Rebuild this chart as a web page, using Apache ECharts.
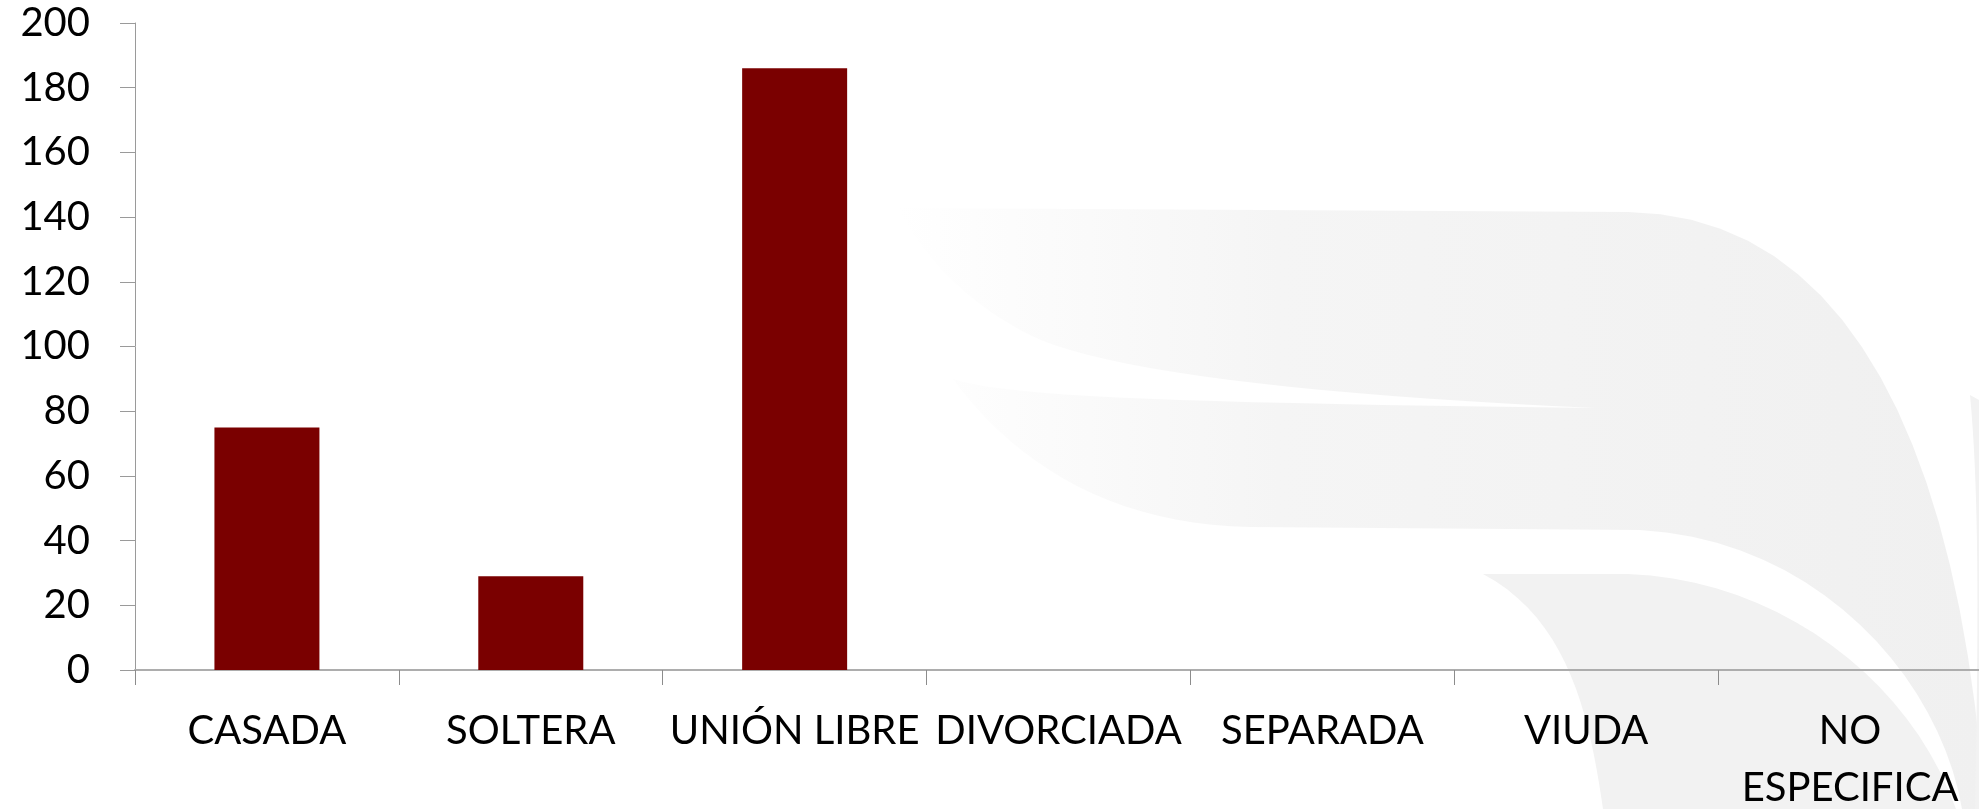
<!DOCTYPE html>
<html>
<head>
<meta charset="utf-8">
<script src="https://cdn.jsdelivr.net/npm/echarts@6/dist/echarts.min.js"></script>
<style>
  html, body { margin: 0; padding: 0; background: #ffffff; }
  #grafiek { width: 1979px; height: 809px; }
</style>
</head>
<body>
<div id="grafiek"></div>
<script>
// categorieën en waarden
const categorieen = ['CASADA', 'SOLTERA', 'UNIÓN LIBRE', 'DIVORCIADA', 'SEPARADA', 'VIUDA', 'NO\nESPECIFICA'];
const aantallen = [75, 29, 186, 0, 0, 0, 0];
const yTicks = [0, 200, 20]; // min, max, interval

// achtergrond watermerk (decoratie): lijnen en bezier-bochten omzetten naar veelhoek
function vorm(start, stukken) {
    let punten = [start];
    let p = start;
    stukken.forEach(s => {
        if (s.length === 1) {
            punten.push(s[0]);
            p = s[0];
        } else {
            let [c1, c2, e] = s;
            for (let i = 1; i <= 20; i++) {
                let t = i / 20, u = 1 - t;
                punten.push([
                    u * u * u * p[0] + 3 * u * u * t * c1[0] + 3 * u * t * t * c2[0] + t * t * t * e[0],
                    u * u * u * p[1] + 3 * u * u * t * c1[1] + 3 * u * t * t * c2[1] + t * t * t * e[1]
                ]);
            }
            p = e;
        }
    });
    return punten;
}

const grijs = {
    type: 'linear', x: 0, y: 0, x2: 1, y2: 0,
    colorStops: [
        { offset: 0, color: '#ffffff' },
        { offset: 0.35, color: '#f5f5f5' },
        { offset: 1, color: '#f0f0f0' }
    ]
};

function toonGrafiek() {
    let grafiek = echarts.init(document.getElementById('grafiek'));
    let vormA = vorm([898, 208], [
        [[1628, 212]],
        [[1850, 215], [1960, 450], [1985, 809]],
        [[1962, 809]],
        [[1940, 680], [1820, 540], [1640, 530]],
        [[1250, 527]],
        [[1120, 525], [1020, 470], [953, 379]],
        [[1010, 398], [1200, 403], [1596, 408]],
        [[1300, 395], [1100, 370], [1030, 335]],
        [[960, 300], [920, 250], [898, 208]]
    ]);
    let vormB = vorm([1483, 574], [
        [[1628, 574]],
        [[1780, 580], [1910, 680], [1956, 809]],
        [[1603, 809]],
        [[1590, 720], [1570, 620], [1483, 574]]
    ]);
    let vormC = vorm([1970, 395], [
        [[1979, 400]],
        [[1979, 809]],
        [[1975, 809]],
        [[1978, 650], [1980, 500], [1970, 395]]
    ]);
    let option = {
        backgroundColor: '#ffffff',
        animation: false,
        textStyle: { fontFamily: 'Lato' },
        graphic: [
            { type: 'polygon', z: -10, silent: true, shape: { points: vormA }, style: { fill: grijs } },
            { type: 'polygon', z: -10, silent: true, shape: { points: vormB }, style: { fill: '#f2f2f2' } },
            { type: 'polygon', z: -10, silent: true, shape: { points: vormC }, style: { fill: '#f2f2f2' } }
        ],
        grid: {
            left: 135,
            top: 23,
            width: 1847,
            bottom: 139,
            containLabel: false,
            outerBoundsMode: 'none'
        },
        xAxis: {
            type: 'category',
            data: categorieen,
            axisLine: { lineStyle: { color: '#adadad', width: 2 } },
            axisTick: { show: true, length: 15, lineStyle: { color: '#8c8c8c', width: 1 } },
            axisLabel: {
                color: '#000000',
                fontSize: 40,
                lineHeight: 57,
                margin: 33,
                interval: 0
            }
        },
        yAxis: {
            type: 'value',
            min: yTicks[0],
            max: yTicks[1],
            interval: yTicks[2],
            axisLine: { show: true, lineStyle: { color: '#9a9a9a', width: 1 } },
            axisTick: { show: true, length: 15, lineStyle: { color: '#9a9a9a' } },
            splitLine: { show: false },
            axisLabel: {
                color: '#000000',
                fontSize: 40,
                margin: 45
            }
        },
        series: [
            {
                name: 'aantal',
                type: 'bar',
                data: aantallen,
                barWidth: 105,
                itemStyle: {
                    color: '#7a0000',
                    borderWidth: 0
                }
            }
        ]
    };
    grafiek.setOption(option);
}

window.onload = function () {
    if (document.getElementById('grafiek')) {
        toonGrafiek();
    } else {
        console.error("Element #grafiek niet gevonden!");
    }
};
</script>
</body>
</html>
